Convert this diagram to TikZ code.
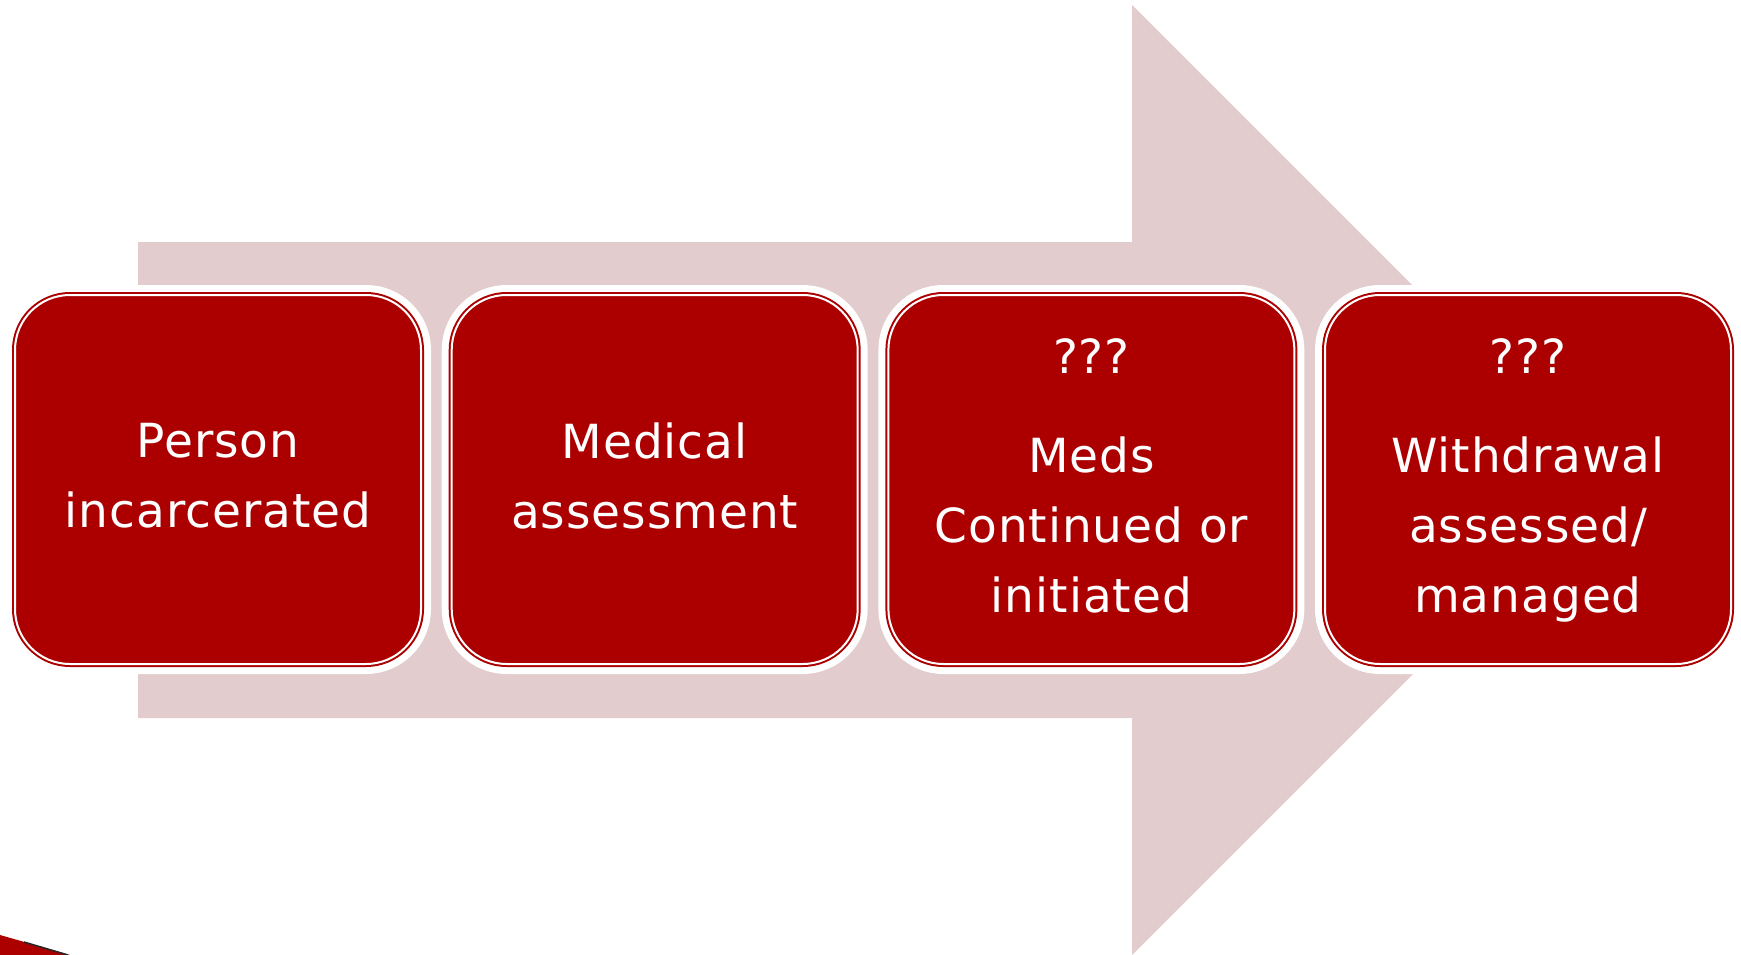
\documentclass[tikz,border=0pt]{standalone}
\usepackage{fontspec}
\setmainfont[LetterSpace=2]{DejaVu Sans}
\definecolor{boxred}{RGB}{172,0,0}
\definecolor{arrowpink}{RGB}{227,204,205}
\begin{document}
\begin{tikzpicture}[x=1pt,y=-1pt,
  halo/.style={rounded corners=55pt, minimum width=406pt, minimum height=369pt,
    inner sep=0pt, outer sep=0pt, draw=white, fill=white, line width=20pt},
  stagebox/.style={rounded corners=55pt, minimum width=406pt, minimum height=369pt,
    inner sep=0pt, outer sep=0pt, fill=boxred, draw=boxred, line width=2pt,
    double=white, double distance=2pt,
    text=white, align=center, text depth=8pt,
    font=\fontsize{47}{70}\selectfont}]
  \useasboundingbox (0,0) rectangle (1741,955);

  % broad process arrow behind the stages
  \fill[arrowpink] (138,242) -- (1132,242) -- (1132,5) -- (1607,480)
    -- (1132,955) -- (1132,718) -- (138,718) -- cycle;

  % white halos around the stages
  \foreach \n/\x in {1/218, 2/654.7, 3/1091.4, 4/1528}
    \node[halo] (h\n) at (\x,479.5) {};

  % stages
  \node[stagebox] (s1) at (218,479.5) {Person\\incarcerated};
  \node[stagebox] (s2) at (654.7,479.5) {Medical\\assessment};
  \node[stagebox] (s3) at (1091.4,479.5) {???\\[29pt]Meds\\Continued or\\initiated};
  \node[stagebox] (s4) at (1528,479.5) {???\\[29pt]Withdrawal\\assessed/\\managed};

  % corner fragment
  \fill[boxred] (0,935) -- (70,955) -- (0,955) -- cycle;
  \draw[black!85, line width=1.5pt] (24,942) -- (68,955);
\end{tikzpicture}
\end{document}
